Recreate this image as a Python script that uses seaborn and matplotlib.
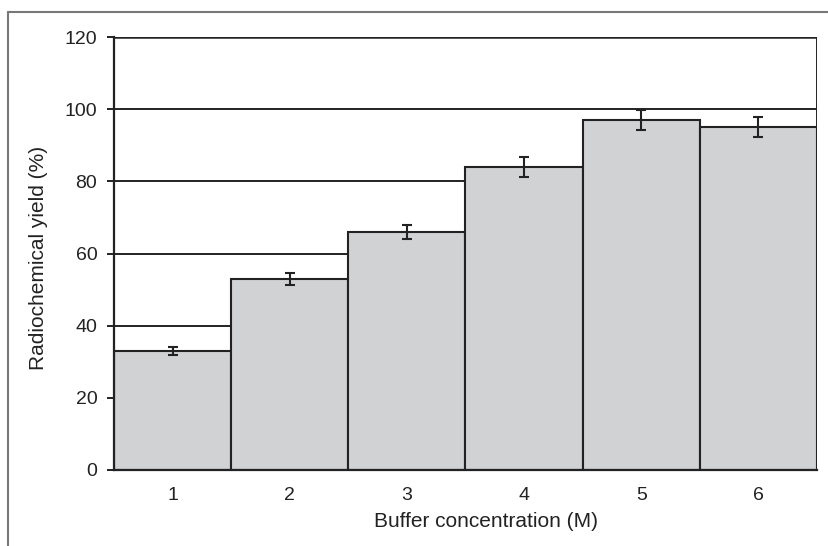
import matplotlib
matplotlib.use("Agg")
import matplotlib.pyplot as plt
from matplotlib.lines import Line2D
import seaborn as sns
import pandas as pd

# Data
concentrations = ["1", "2", "3", "4", "5", "6"]
yields = [33, 53, 66, 84, 97, 95]
errors = [1.0, 1.7, 2.0, 2.7, 2.8, 2.8]

df = pd.DataFrame({"conc": concentrations, "yield": yields})

sns.set_theme(style="white")
plt.rcParams["font.family"] = ["Liberation Sans", "DejaVu Sans"]

fig = plt.figure(figsize=(8.29, 5.46), dpi=100)
ax = fig.add_axes([114 / 829, 1 - 470 / 546, (817 - 114) / 829, (470 - 37) / 546])

# horizontal gridlines behind the bars
for yv in [20, 40, 60, 80, 100]:
    ax.axhline(yv, color="#222222", lw=1.4, zorder=0)
ax.axhline(120, color="#222222", lw=1.8, zorder=0)

sns.barplot(data=df, x="conc", y="yield", color="#d1d2d4", width=1.0,
            edgecolor="#222222", linewidth=1.5, saturation=1, ax=ax, zorder=2)
ax.errorbar(range(len(yields)), yields, yerr=errors, fmt="none",
            ecolor="#222222", elinewidth=1.5, capsize=3.5, capthick=1.5, zorder=3)

ax.set_ylim(0, 120)
ax.set_xlim(-0.5, len(yields) - 0.5)
ax.set_yticks([0, 20, 40, 60, 80, 100, 120])
ax.set_xticks(range(len(yields)))
ax.set_xticklabels(concentrations)
ax.set_xticks([i - 0.5 for i in range(len(yields) + 1)], minor=True)
ax.tick_params(axis="x", which="major", length=0, pad=12.5, labelsize=14, colors="#222222")
ax.tick_params(axis="x", which="minor", length=5, width=1.4, color="#222222", direction="out")
ax.tick_params(axis="y", length=5, width=1.4, color="#222222", direction="out",
               labelsize=14, labelcolor="#222222", pad=7)
ax.tick_params(axis="both", bottom=True, left=True)

for side in ["left", "bottom"]:
    ax.spines[side].set_color("#222222")
    ax.spines[side].set_linewidth(1.6)
for side in ["top", "right"]:
    ax.spines[side].set_visible(False)
ax.axvline(len(yields) - 0.5, color="#222222", lw=1.4, zorder=1)

ax.set_xlabel("Buffer concentration (M)", fontsize=15, color="#222222")
ax.set_ylabel("Radiochemical yield (%)", fontsize=15, color="#222222", labelpad=12)
ax.xaxis.set_label_coords(0.529, -0.097)
ax.yaxis.label.set_y(0.49)

# outer frame (only left and top edges visible in the reference)
fig.add_artist(Line2D([8 / 829, 8 / 829], [0, 1 - 12 / 546], color="#777777", lw=1.5))
fig.add_artist(Line2D([8 / 829, 1], [1 - 12 / 546, 1 - 12 / 546], color="#777777", lw=1.5))

fig.savefig("out.png", dpi=100)
